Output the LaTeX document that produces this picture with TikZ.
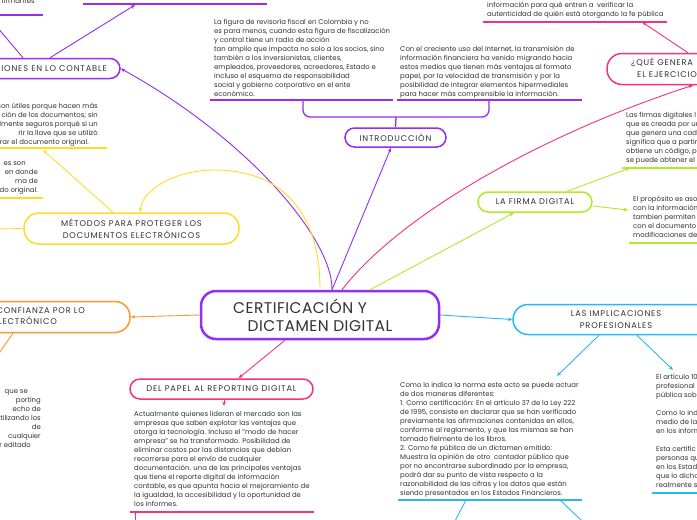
\documentclass[tikz,border=0pt]{standalone}
\usepackage{fontspec}
\setmainfont{Poppins}
\newfontfamily\hdrfont[LetterSpace=10]{Poppins}
\newfontfamily\cenfont[LetterSpace=3]{Poppins}
\usetikzlibrary{arrows.meta}
\definecolor{purp}{RGB}{150,45,240}
\definecolor{pinkc}{RGB}{245,50,130}
\definecolor{limec}{RGB}{175,235,40}
\definecolor{bluec}{RGB}{40,185,240}
\definecolor{orangec}{RGB}{255,150,50}
\definecolor{yellowc}{RGB}{255,220,40}
\definecolor{txt}{RGB}{50,50,50}
\tikzset{
 body/.style={font=\fontsize{6.9}{9}\selectfont, text=txt, align=left, inner sep=0pt, anchor=north west},
 bodyr/.style={font=\fontsize{6.9}{9}\selectfont, text=txt, align=right, inner sep=0pt, anchor=north east},
 topic/.style={draw, line width=1.5pt, fill=white, inner sep=0pt, font=\hdrfont\fontsize{8.3}{11.5}\selectfont, text=txt, align=center},
 htext/.style={inner sep=0pt, font=\hdrfont\fontsize{8.3}{11.5}\selectfont, text=txt},
 uline/.style={line width=1.6pt},
 conn/.style={line width=0.9pt, -{Stealth[length=4.5pt,width=3.6pt]}},
 plainc/.style={line width=0.9pt},
}
\begin{document}
\begin{tikzpicture}[x=1pt,y=-1pt]
\useasboundingbox (0,0) rectangle (697,520);
\clip (0,0) rectangle (697,520);
\fill[white] (0,0) rectangle (697,520);

% coordinates for free ends
\coordinate (u3a) at (642,22);
\coordinate (u4a) at (630,168);
\coordinate (t5a) at (628,210);
\coordinate (t6a) at (557,376);
\coordinate (t7a) at (673,370);
\coordinate (t8a) at (224,406);
\coordinate (u9a) at (43,150);
\coordinate (u11a) at (135,5);
\coordinate (ctl) at (-3,27);
\coordinate (cfd) at (-5,359);
\coordinate (mwl) at (-3,229);
\coordinate (bl) at (303,100);
\coordinate (br) at (489,100);
\coordinate (bj) at (396,117);
\coordinate (d1a) at (466,500);
\coordinate (d1b) at (455,521);
\coordinate (d2a) at (560,500);
\coordinate (d2b) at (582,521);
\coordinate (p1a) at (135,512);
\coordinate (p1b) at (135,521);

% underlines
\draw[uline,purp] (210,100) -- (393,100);
\draw[uline,purp] (397,100) -- (582,100);
\draw[uline,pinkc] (483,22) -- (667,22);
\draw[uline,limec] (622,168) -- (700,168);
\draw[uline,limec] (629,243) -- (700,243);
\draw[uline,bluec] (398,500) -- (582,500);
\draw[uline,bluec] (652,493) -- (700,493);
\draw[uline,pinkc] (130,512) -- (314,512);
\draw[uline,yellowc] (-2,148) -- (107,148);
\draw[uline,yellowc] (-2,198) -- (43,198);
\draw[uline,purp] (83,4) -- (267,4);
\draw[uline,purp] (-2,15) -- (43,15);

% nodes
\node[draw=purp, line width=2.5pt, fill=white, rounded corners=15pt, minimum width=238pt, minimum height=48pt, inner sep=0pt, font=\cenfont\fontsize{15.5}{18}\selectfont, text=txt, align=center] (central) at (320,315) {CERTIFICACIÓN Y\hspace*{40pt}\\DICTAMEN DIGITAL};
\node[topic, draw=purp, minimum width=101pt, minimum height=19pt, rounded corners=9.5pt] (intro) at (395.5,137.5) {INTRODUCCIÓN};
\node[topic, draw=pinkc, minimum width=180pt, minimum height=31pt, rounded corners=15pt] (que) at (697,69) {};
\node[htext, anchor=north west, align=left] (quet) at (631,58) {¿QUÉ GENERA\\\hspace*{6pt}EL EJERCICIO};
\node[topic, draw=limec, minimum width=114pt, minimum height=20pt, rounded corners=10pt] (firma) at (535,202) {LA FIRMA DIGITAL};
\node[topic, draw=bluec, minimum width=206pt, minimum height=30pt, rounded corners=15pt] (impl) at (616,319.5) {LAS IMPLICACIONES\\PROFESIONALES};
\node[topic, draw=pinkc, minimum width=183pt, minimum height=20pt, rounded corners=10pt] (papel) at (221.5,389) {DEL PAPEL AL REPORTING DIGITAL};
\node[topic, draw=orangec, minimum width=198pt, minimum height=31pt, rounded corners=15pt] (conf) at (31,317) {};
\node[htext, anchor=north east, align=right] (conft) at (85,307) {LA CONFIANZA POR LO\\ELECTRÓNICO\hspace*{28pt}};
\node[topic, draw=purp, minimum width=198pt, minimum height=20pt, rounded corners=10pt] (cont) at (21,68.5) {};
\node[htext, anchor=east] (contt) at (107,69) {IMPLICACIONES EN LO CONTABLE};
\node[topic, draw=yellowc, minimum width=215pt, minimum height=31pt, rounded corners=15pt] (met) at (131.5,228.5) {MÉTODOS PARA PROTEGER LOS\\DOCUMENTOS ELECTRÓNICOS};

% bracket above introduction
\draw[purp, line width=1.3pt, rounded corners=7pt] (bl) |- (bj) -| (br);
\draw[purp, line width=1.3pt] (bj) -- (intro.north);

% connectors
\draw[conn,purp] ([xshift=12pt]central.north) -- ([xshift=-4.5pt]intro.south);
\draw[conn,purp] ([xshift=12pt]central.north) .. controls (333,240) and (250,140) .. (cont.east);
\draw[conn,purp] ([xshift=29pt]cont.north) -- (u11a);
\draw[plainc,purp] ([xshift=2pt]cont.north) -- (ctl);
\draw[conn,yellowc] (central.north) .. controls (320,200) and (270,170) .. (215,170) .. controls (175,170) and (142,190) .. ([xshift=8.5pt]met.north);
\draw[conn,yellowc] ([xshift=-18.5pt]met.north) -- (u9a);
\draw[plainc,yellowc] (met.west) -- (mwl);
\draw[conn,orangec] (central.west) -- (conf.east);
\draw[plainc,orangec] ([xshift=-18pt]conf.south) -- (cfd);
\draw[conn,pinkc] ([xshift=-35pt]central.south) -- ([xshift=17pt]papel.north);
\draw[conn,pinkc] ([xshift=2.5pt]papel.south) -- (t8a);
\draw[plainc,pinkc] (p1a) -- (p1b);
\draw[conn,bluec] (central.east) -- (impl.west);
\draw[conn,bluec] ([xshift=-17pt]impl.south) -- (t6a);
\draw[conn,bluec] ([xshift=21pt]impl.south) -- (t7a);
\draw[plainc,bluec] (d1a) -- (d1b);
\draw[plainc,bluec] (d2a) -- (d2b);
\draw[conn,limec] ([xshift=50pt]central.north) -- ([xshift=-21pt]firma.south);
\draw[conn,limec] ([xshift=32pt]firma.north) -- (u4a);
\draw[conn,limec] ([yshift=-4pt]firma.east) -- (t5a);
\draw[conn,pinkc] ([xshift=22pt]central.north) .. controls (400,215) and (540,135) .. ([xshift=-4pt]que.south);
\draw[conn,pinkc] ([xshift=-9pt]que.north) -- (u3a);

% texts
\node[body] (t1) at (214,17.5) {\strut La figura de revisoría fiscal en Colombia y no\\
es para menos, cuando esta figura de fiscalización\\
y control tiene un radio de acción\\
tan amplio que impacta no solo a los socios, sino\\
también a los inversionistas, clientes,\\
empleados, proveedores, acreedores, Estado e\\
incluso el esquema de responsabilidad\\
social y gobierno corporativo en el ente\\
económico.};
\node[body] (t2) at (400,44.5) {\strut Con el creciente uso del Internet, la transmisión de\\
información financiera ha venido migrando hacia\\
estos medios que tienen más ventajas al formato\\
papel, por la velocidad de transmisión y por la\\
posibilidad de integrar elementos hipermediales\\
para hacer más comprensible la información.};
\node[body] (t3) at (487,0.8) {\strut información para qué entren a\ \ verificar la\\
autenticidad de quién está otorgando la fe pública};
\node[body] (t4) at (626,110.5) {\strut Las firmas digitales l\\
que es creada por un\\
que genera una cade\\
significa que a partir\\
obtiene un código, pe\\
se puede obtener el c};
\node[body] (t5) at (633,194.5) {\strut El propósito es aso\\
con la información\\
tambien permiten c\\
con el documento o\\
modificaciones del};
\node[body] (t6) at (400,380.5) {\strut Como lo indica la norma este acto se puede actuar\\
de dos maneras diferentes:\\
1. Como certificación: En el artículo 37 de la Ley 222\\
de 1995, consiste en declarar que se han verificado\\
previamente las afirmaciones contenidas en ellos,\\
conforme al reglamento, y que las mismas se han\\
tomado fielmente de los libros.\\
2. Como fe pública de un dictamen emitido:\\
Muestra la opinión de otro\ \ contador público que\\
por no encontrarse subordinado por la empresa,\\
podrá dar su punto de vista respecto a la\\
razonabilidad de las cifras y los datos que están\\
siendo presentados en los Estados Financieros.};
\node[body] (t7) at (656,372.5) {\strut El artículo 10\\
profesional\\
pública sobr\\
\strut\\
Como lo ind\\
medio de la\\
en los inform\\
\strut\\
Esta certific\\
personas qu\\
en los Estad\\
que lo dicho\\
realmente s};
\node[body] (t8) at (134,409.5) {\strut Actualmente quienes lideran el mercado son las\\
empresas que saben explotar las ventajas que\\
otorga la tecnología. Incluso el "modo de hacer\\
empresa" se ha transformado. Posibilidad de\\
eliminar costos por las distancias que debían\\
recorrerse para el envío de cualquier\\
documentación. una de las principales ventajas\\
que tiene el reporte digital de información\\
contable, es que apunta hacia el mejoramiento de\\
la igualdad, la accesibilidad y la oportunidad de\\
los informes.};
\node[bodyr] (t9) at (41,386.5) {\strut que se\hspace*{13pt}\\
porting\hspace*{18pt}\\
echo de\hspace*{17pt}\\
tilizando los\\
de\hspace*{34pt}\\
cualquier\hspace*{9pt}\\
r editado\hspace*{10pt}};
\node[bodyr] (t10) at (98,101.5) {\strut son útiles porque hacen más\\
ción de los documentos; sin\hspace*{4pt}\\
lmente seguros porqué si un\\
rir la llave que se utilizó\hspace*{28pt}\\
rar el documento original.\hspace*{9pt}};
\node[bodyr] (t11) at (38,158.5) {\strut es son\hspace*{12pt}\\
en donde\hspace*{7pt}\\
ma de\hspace*{17pt}\\
do original.};
\node[bodyr] (t12) at (35,-3.5) {\strut firmantes};
\end{tikzpicture}
\end{document}
